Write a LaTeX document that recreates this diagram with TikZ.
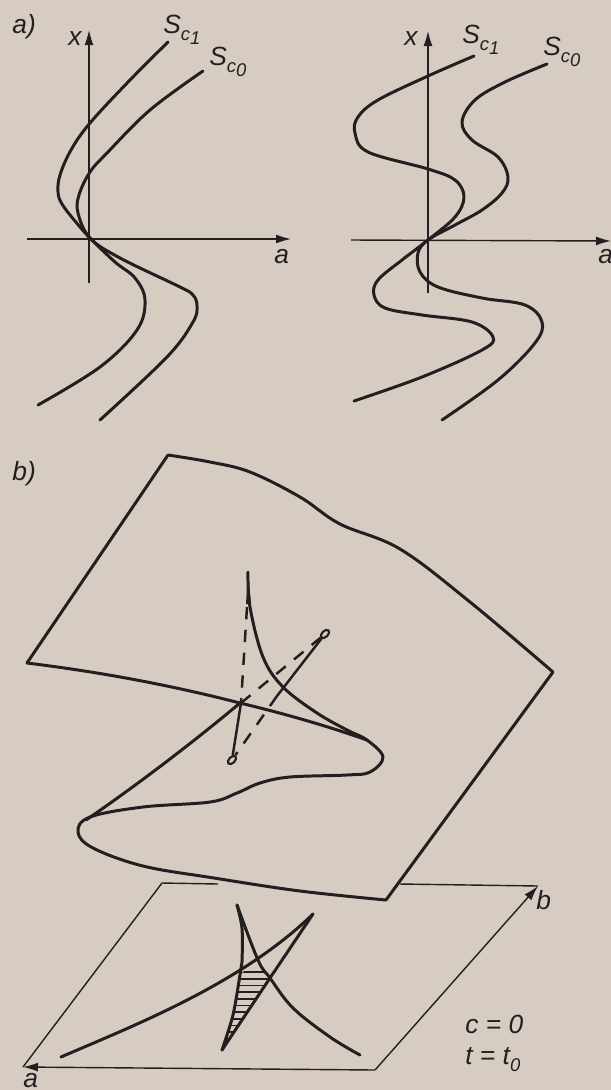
\documentclass[tikz,border=0pt]{standalone}
\usepackage{fontspec}
\setmainfont{Liberation Sans}
\usetikzlibrary{arrows.meta,shapes.geometric}
\definecolor{paper}{HTML}{D7CCC2}
\definecolor{ink}{HTML}{231F20}
\newcommand{\subfont}{\fontsize{10.5}{12}\selectfont}
\newcommand{\Sc}[1]{S\raisebox{-4pt}{\subfont c}\raisebox{-6.5pt}{\subfont #1}}
\begin{document}
\begin{tikzpicture}[x=0.02cm,y=-0.02cm,ink,font=\fontsize{15}{17}\selectfont\itshape]
  \tikzstyle{curve}=[line width=1.7pt,line join=round,line cap=round]
  \tikzstyle{thin line}=[line width=0.8pt]
  \tikzstyle{tip}=[-{Latex[length=3mm,width=1.8mm]}]
  \tikzstyle{fold}=[line width=1.4pt,dash pattern=on 7pt off 6pt]
  \tikzstyle{loop}=[ellipse,draw,line width=1.2pt,minimum width=2mm,minimum height=1.2mm,inner sep=0pt,rotate=45]
  \tikzstyle{label}=[anchor=base west,inner sep=0pt]
  \fill[paper] (0,0) rectangle (611,1090);
  \useasboundingbox (0,0) rectangle (611,1090);
  % a) left
  \node[label] (alabel) at (12,33) {a)};
  \coordinate (xl0) at (89,283);
  \coordinate (xl1) at (89,30);
  \coordinate (al0) at (27,239);
  \coordinate (al1) at (291,239);
  \draw[thin line,tip] (xl0) -- (xl1);
  \draw[thin line,tip] (al0) -- (al1);
  \node[label] (xl) at (68,45) {x};
  \node[label] (al) at (274,263) {a};
  \node[label] (sl1) at (163,33) {\Sc{1}};
  \node[label] (sl0) at (209,65) {\Sc{0}};
  \draw[curve] plot[smooth,tension=0.6] coordinates {(168,42) (130,80) (90,123) (71,150) (60,175) (58,192) (62,204) (75,221) (90,238) (115,262) (135,278) (145,300) (137,330) (100,367) (38,405)};
  \draw[curve] plot[smooth,tension=0.6] coordinates {(203,71) (150,110) (107,153) (90,172) (79,195) (78,213) (90,238) (120,258) (180,287) (193,295) (197,306) (193,322) (167,357) (100,420)};
  % a) right
  \coordinate (xr0) at (428,293);
  \coordinate (xr1) at (428,31);
  \coordinate (ar0) at (351,240);
  \coordinate (ar1) at (611,241);
  \draw[thin line,tip] (xr0) -- (xr1);
  \draw[thin line,tip] (ar0) -- (ar1);
  \node[label] (xr) at (404,45) {x};
  \node[label] (ar) at (598,263) {a};
  \node[label] (sr1) at (462,43) {\Sc{1}};
  \node[label] (sr0) at (543,55) {\Sc{0}};
  \draw[curve] plot[smooth,tension=0.6] coordinates {(474,56) (428,76) (378,100) (358,117) (355,133) (368,152) (428,169) (455,180) (464,197) (455,217) (428,240) (402,260) (378,280) (374,295) (385,308) (422,315) (472,322) (493,337) (482,350) (422,377) (354,401)};
  \draw[curve] plot[smooth,tension=0.6] coordinates {(547,64) (505,82) (475,100) (462,122) (472,140) (498,157) (508,177) (502,193) (482,210) (455,225) (428,240) (418,253) (420,272) (438,287) (482,298) (525,305) (542,322) (535,343) (498,380) (442,420)};
  % b) surface
  \node[label] (blabel) at (12,480) {b)};
  \draw[curve] (27,663) -- (168,455) plot[smooth,tension=0.6] coordinates {(168,455) (210,462) (250,472) (300,497) (340,524) (400,549) (470,602) (553,672)} -- (386,900);
  \draw[curve] plot[smooth,tension=0.6] coordinates {(386,900) (300,891) (214,878) (143,866) (93,848) (78,832) (90,817) (143,807) (210,802) (237,793) (260,783) (290,777) (347,775) (370,772) (383,757) (367,740) (347,730) (317,713) (283,687) (263,657) (250,607) (248,572)};
  \draw[curve] (27,663) .. controls (100,672) and (170,685) .. (240,703) .. controls (290,715) and (330,727) .. (367,740);
  \draw[curve] (86,820) .. controls (130,790) and (190,745) .. (240,703);
  \fill (248,571) -- (246,604) -- (251,604) -- cycle;
  % b) fold lines
  \node[loop] (lp0) at (232,760) {};
  \node[loop] (lp1) at (325,634) {};
  \coordinate (k0) at (247,607);
  \coordinate (k1) at (241,703);
  \coordinate (k2) at (277,696);
  \draw[fold] (k0) -- (k1);
  \draw[curve,line width=1.4pt] (k1) -- (lp0);
  \draw[fold] (k1) -- (lp1);
  \draw[curve,line width=1.4pt] (lp1) -- (k2);
  \draw[fold] (k2) -- (lp0);
  % b) plane
  \coordinate (p0) at (218,884);
  \coordinate (p1) at (162,883);
  \coordinate (p2) at (23,1067);
  \coordinate (p3) at (375,1070);
  \coordinate (p4) at (538,886);
  \coordinate (p5) at (400,884);
  \draw[thin line] (p0) -- (p1) -- (p2);
  \draw[thin line,tip] (p3) -- (p2);
  \draw[thin line,tip] (p3) -- (p4);
  \draw[thin line] (p5) -- (p4);
  \node[label] (pa) at (23,1087.5) {a};
  \node[label] (pb) at (536,909) {b};
  \node[label] (pc) at (465,1033) {c = 0};
  \node[label] (pt) at (465,1064) {t = t\raisebox{-4pt}{\subfont 0}};
  % b) projection
  \draw[curve] (61,1057) .. controls (130,1027) and (240,985) .. (313,914);
  \draw[curve] plot[smooth,tension=0.6] coordinates {(237,905) (258,960) (270,978) (293,1008) (330,1037) (360,1055)};
  \draw[curve] plot[smooth,tension=0.5] coordinates {(237,905) (242,928) (242,962) (240,975) (233,1015) (222,1050)};
  \draw[curve] (222,1050) -- (270,978) -- (313,914);
  \begin{scope}
    \clip (239,975) -- (258,961) -- (270,978) -- (222,1050) .. controls (232,1020) and (238,995) .. (239,975) -- cycle;
    \foreach \y in {972,978.7,...,1040}
      \draw[line width=1pt] (215,\y) -- (280,\y);
  \end{scope}
\end{tikzpicture}
\end{document}
